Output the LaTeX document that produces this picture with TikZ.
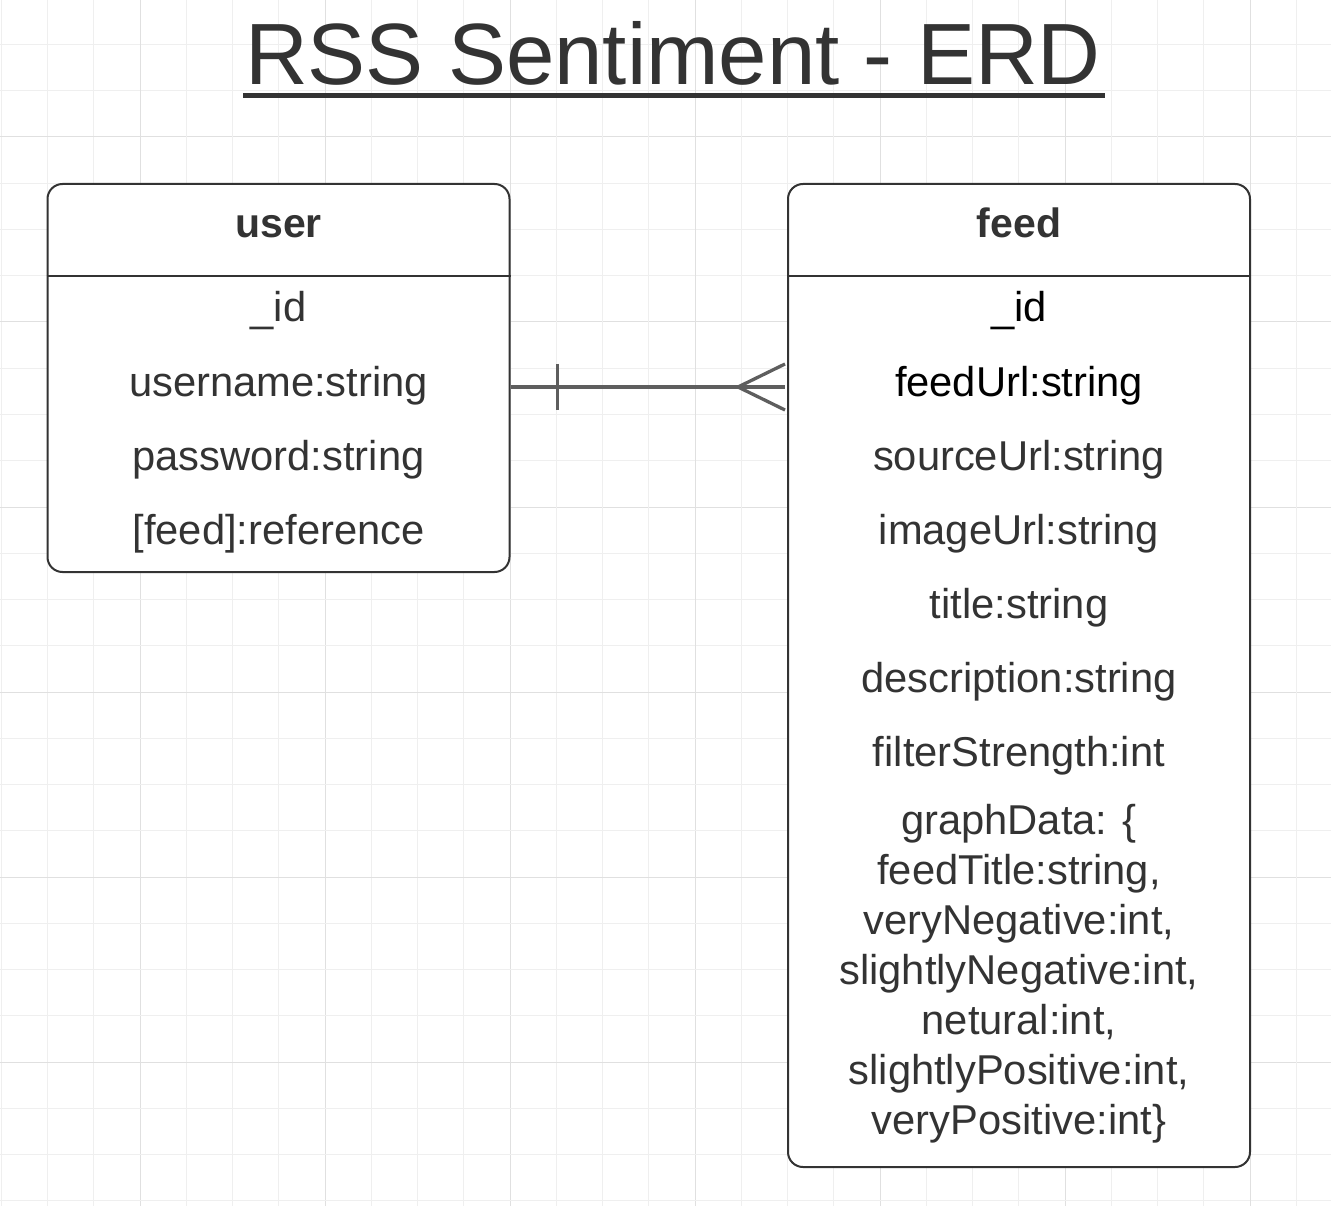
\documentclass[tikz,border=0pt]{standalone}
\usepackage{fontspec}
\setmainfont{Liberation Sans}
\definecolor{ink}{HTML}{333333}
\definecolor{conn}{HTML}{5E5E5E}
\definecolor{gridminor}{HTML}{EFEFEF}
\definecolor{gridmajor}{HTML}{E0E0E0}
\tikzset{
  entity/.style={draw=ink, line width=2pt, rounded corners=15pt, fill=white, inner sep=0pt},
  divider/.style={draw=ink, line width=2pt},
  field/.style={anchor=base, text=ink, font=\fontsize{41.7}{50}\selectfont, inner sep=0pt},
  fieldk/.style={field, text=black},
  header/.style={anchor=base, text=ink, font=\fontsize{41}{48}\selectfont\bfseries, inner sep=0pt},
  relline/.style={draw=conn, line width=3.3pt},
}
\begin{document}
\begin{tikzpicture}[x=1pt,y=-1pt]
\useasboundingbox (0,0) rectangle (1331,1206);
\fill[white] (0,0) rectangle (1331,1206);
% grid
\foreach \k in {0,...,28} {
  \pgfmathsetmacro{\gx}{1.3+46.25*\k}
  \pgfmathsetmacro{\gy}{-1.75+46.25*\k}
  \pgfmathtruncatemacro{\m}{mod(\k,4)}
  \ifnum\m=3
    \draw[gridmajor, line width=1pt] (\gx,0) -- (\gx,1206);
    \draw[gridmajor, line width=1pt] (0,\gy) -- (1331,\gy);
  \else
    \draw[gridminor, line width=1pt] (\gx,0) -- (\gx,1206);
    \draw[gridminor, line width=1pt] (0,\gy) -- (1331,\gy);
  \fi
}
% title
\node[anchor=base, text=ink, inner sep=0pt, font=\fontsize{87}{100}\selectfont] (title) at (673,85) {RSS Sentiment - ERD};
\fill[ink] (243,93) rectangle (1105,98);
% user entity
\node[entity, minimum width=462pt, minimum height=388pt] (user) at (278.5,378) {};
\draw[divider] (user.west |- 0,276) -- (user.east |- 0,276);
\node[header] (userh) at (278.5,238) {user};
\node[field] (u1) at (278.5,322) {\_id};
\node[field] (u2) at (278.5,396) {username:string};
\node[field] (u3) at (278.5,470) {password:string};
\node[field] (u4) at (278.5,544) {[feed]:reference};
% feed entity
\node[entity, minimum width=462pt, minimum height=983pt] (feed) at (1019,675.5) {};
\draw[divider] (feed.west |- 0,276) -- (feed.east |- 0,276);
\node[header] (feedh) at (1019,238) {feed};
\node[fieldk] (f1) at (1019,322) {\_id};
\node[fieldk] (f2) at (1019,396) {feedUrl:string};
\node[field] (f3) at (1019,470) {sourceUrl:string};
\node[field] (f4) at (1019,544) {imageUrl:string};
\node[field] (f5) at (1019,618) {title:string};
\node[field] (f6) at (1019,692) {description:string};
\node[field] (f7) at (1019,766) {filterStrength:int};
\node[field, align=center, anchor=north] (f8) at (1019,804) {graphData: \{\\feedTitle:string,\\veryNegative:int,\\slightlyNegative:int,\\netural:int,\\slightlyPositive:int,\\veryPositive:int\}};
% relationship
\coordinate (ra) at (user.east |- 0,387);
\coordinate (rb) at (feed.west |- 0,387);
\draw[relline] (ra) -- ([xshift=-2pt]rb);
\draw[relline] ([xshift=47pt]ra |- 0,364) -- ([xshift=47pt]ra |- 0,410);
\draw[relline] ([xshift=-2pt]rb |- 0,364) -- ([xshift=-49pt]rb) -- ([xshift=-2pt]rb |- 0,410);
\end{tikzpicture}
\end{document}
